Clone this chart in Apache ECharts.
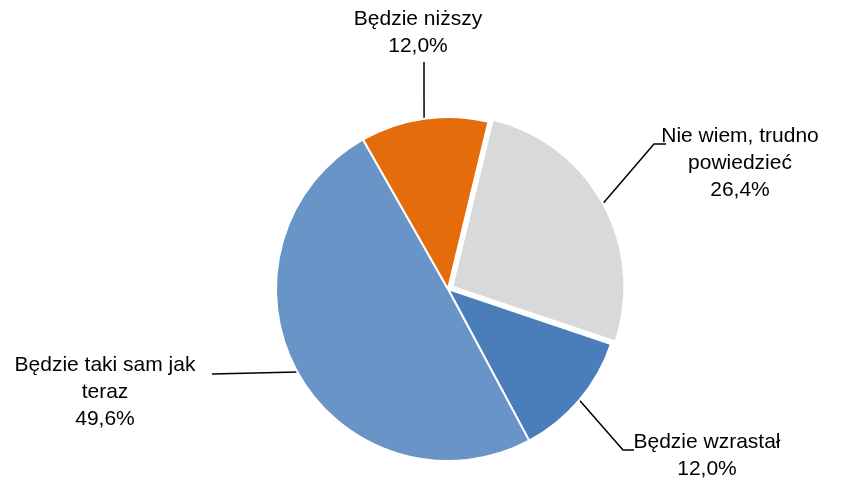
<!DOCTYPE html>
<html>
<head>
<meta charset="utf-8">
<script src="https://cdn.jsdelivr.net/npm/echarts@6/dist/echarts.min.js"></script>
<style>
  html, body { margin: 0; padding: 0; background: #fff; }
  #chart { width: 842px; height: 478px; }
</style>
</head>
<body>
<div id="chart"></div>
<script>
// dane
const categories = ['Nie wiem, trudno\npowiedzieć', 'Będzie wzrastał', 'Będzie taki sam jak\nteraz', 'Będzie niższy'];
const values = [26.4, 12.0, 49.6, 12.0];
const colors = ['#D9D9D9', '#4A7EBB', '#6994C8', '#E46C0A'];

// pozycje etykiet (środek, góra bloku) i załamania linii
const labelSpots = [
  { x: 740, y: 123, bend: [[654, 144], [666, 144]] },
  { x: 707, y: 429, bend: [[623, 450], [634, 450]] },
  { x: 105, y: 352, bend: [[212, 374]] },
  { x: 418, y: 6,   bend: [[424, 62]] }
];

const center = [448, 289];
const startAngle = 76.4;
const explode = 5;   // wysunięcie szarego wycinka

// kierunek wysunięcia liczony ze środka kąta wycinka
const total = values.reduce((a, b) => a + b, 0);
const midDeg = (90 - startAngle) + 360 * values[0] / total / 2;
const offX = explode * Math.sin(midDeg * Math.PI / 180);
const offY = -explode * Math.cos(midDeg * Math.PI / 180);

const font = {
  color: '#000',
  fontFamily: 'Liberation Sans, Arial, sans-serif',
  fontSize: 21,
  lineHeight: 27
};

let chart = echarts.init(document.getElementById('chart'));
chart.setOption({
  animation: false,
  series: [{
    type: 'pie',
    center: center,
    radius: 172,
    startAngle: startAngle,
    clockwise: true,
    avoidLabelOverlap: false,
    itemStyle: { borderColor: '#fff', borderWidth: 2 },
    label: Object.assign({
      show: true,
      align: 'center',
      formatter: p => p.name + '\n' + p.value.toFixed(1).replace('.', ',') + '%'
    }, font),
    labelLine: { show: true, lineStyle: { color: '#000', width: 1.5 } },
    labelLayout: function (params) {
      const s = labelSpots[params.dataIndex];
      let pts;
      if (params.labelLinePoints) {
        let st = params.labelLinePoints[0].slice();
        if (params.dataIndex === 0) { st[0] += offX; st[1] += offY; }
        pts = [st].concat(s.bend);
      }
      return { x: s.x, y: s.y, align: 'center', verticalAlign: 'top', labelLinePoints: pts };
    },
    emphasis: { disabled: true },
    data: categories.map((c, i) => ({
      name: c,
      value: values[i],
      itemStyle: i === 0 ? { color: 'rgba(0,0,0,0)', borderWidth: 0 } : { color: colors[i] }
    }))
  }, {
    // wysunięty szary wycinek
    type: 'pie',
    center: [center[0] + offX, center[1] + offY],
    radius: 172,
    startAngle: startAngle,
    clockwise: true,
    silent: true,
    label: { show: false },
    labelLine: { show: false },
    emphasis: { disabled: true },
    data: categories.map((c, i) => ({
      name: c,
      value: values[i],
      itemStyle: i === 0
        ? { color: colors[0], borderColor: '#fff', borderWidth: 2 }
        : { color: 'rgba(0,0,0,0)', borderWidth: 0 }
    }))
  }]
});
</script>
</body>
</html>
